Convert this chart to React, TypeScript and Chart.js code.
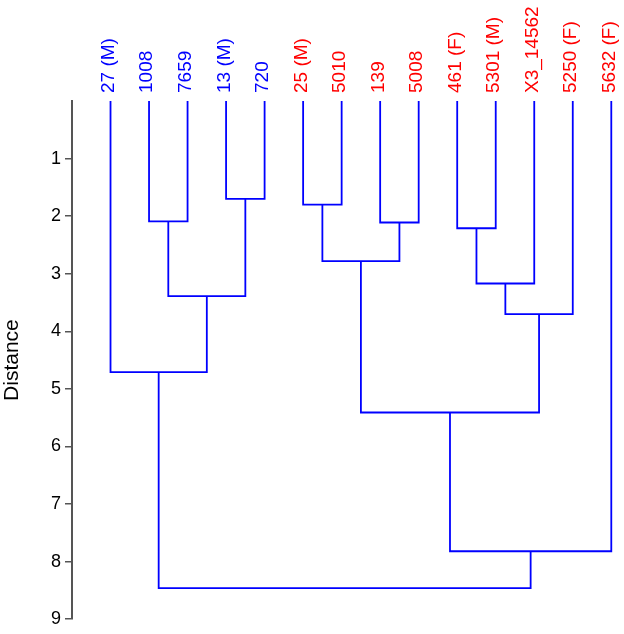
import React, { useEffect, useRef } from "react";
import { Chart, registerables } from "chart.js";

Chart.register(...registerables);

const leafLabels = [
  "27 (M)", "1008", "7659", "13 (M)", "720",
  "25 (M)", "5010", "139", "5008", "461 (F)", "5301 (M)", "X3_14562", "5250 (F)", "5632 (F)",
];
const leafColors = [
  "#0000ff", "#0000ff", "#0000ff", "#0000ff", "#0000ff",
  "#ff0000", "#ff0000", "#ff0000", "#ff0000", "#ff0000", "#ff0000", "#ff0000", "#ff0000", "#ff0000",
];
// linkage: node ids 0..13 are leaves, merges create ids 14, 15, ...
const mergeLeft = [3, 5, 1, 7, 9, 15, 18, 16, 20, 0, 19, 24, 23];
const mergeRight = [4, 6, 2, 8, 10, 17, 11, 14, 12, 21, 22, 13, 25];
const mergeHeights = [1.7, 1.8, 2.09, 2.11, 2.21, 2.78, 3.17, 3.39, 3.7, 4.71, 5.41, 7.82, 8.46];
const yTickValues = [1, 2, 3, 4, 5, 6, 7, 8, 9];

const LINE_COLOR = "#0000ff";
const FONT = "'Liberation Sans', Arial, sans-serif";

function buildSegments() {
  const pos: number[] = leafLabels.map((_, i) => i);
  const hgt: number[] = leafLabels.map(() => 0);
  const segs: { x: number; y: number }[][] = [];
  mergeHeights.forEach((H, k) => {
    const l = mergeLeft[k];
    const r = mergeRight[k];
    segs.push([
      { x: pos[l], y: hgt[l] },
      { x: pos[l], y: H },
      { x: pos[r], y: H },
      { x: pos[r], y: hgt[r] },
    ]);
    pos.push((pos[l] + pos[r]) / 2);
    hgt.push(H);
  });
  return segs;
}

export default function App() {
  const ref = useRef<HTMLCanvasElement | null>(null);
  useEffect(() => {
    if (!ref.current) return;
    const segs = buildSegments();
    const chart = new Chart(ref.current, {
      type: "scatter",
      data: {
        datasets: segs.map((s) => ({
          data: s,
          showLine: true,
          borderColor: LINE_COLOR,
          borderWidth: 1.8,
          pointRadius: 0,
          pointHoverRadius: 0,
          fill: false,
          tension: 0,
          clip: false as any,
        })),
      },
      options: {
        responsive: false,
        animation: false,
        layout: { padding: { left: 0, right: 0, top: 0, bottom: 0 } },
        plugins: { legend: { display: false }, tooltip: { enabled: false } },
        scales: {
          x: {
            type: "linear",
            position: "top",
            min: -1,
            max: 13.33,
            grid: { display: false },
            border: { display: false },
            afterBuildTicks: (scale: any) => {
              scale.ticks = leafLabels.map((_, i) => ({ value: i }));
            },
            afterFit: (scale: any) => {
              scale.height = 101;
              scale.paddingLeft = 0;
              scale.paddingRight = 0;
            },
            ticks: {
              autoSkip: false,
              minRotation: 90,
              maxRotation: 90,
              padding: 0,
              labelOffset: 21,
              font: { family: FONT, size: 19 },
              color: (ctx: any) => leafColors[ctx.tick ? ctx.tick.value : ctx.index] || "#000",
              callback: (v: any) => leafLabels[v as number] ?? "",
            },
          },
          y: {
            type: "linear",
            reverse: true,
            min: 0,
            max: 9,
            afterBuildTicks: (scale: any) => {
              scale.ticks = yTickValues.map((v) => ({ value: v }));
            },
            afterFit: (scale: any) => {
              scale.width = 72;
            },
            grid: {
              drawOnChartArea: false,
              drawTicks: true,
              tickLength: 7,
              color: "#555555",
              lineWidth: 1.5,
            },
            border: { display: true, color: "#555555", width: 2 },
            ticks: {
              padding: 4,
              color: "#000000",
              font: { family: FONT, size: 18 },
            },
            title: {
              display: true,
              text: "Distance",
              color: "#000000",
              font: { family: FONT, size: 21 },
              padding: { top: 0, bottom: 0 },
            },
          },
        },
      },
    });
    return () => chart.destroy();
  }, []);
  return (
    <div style={{ position: "fixed", left: 0, top: 0, width: 624, height: 634, background: "#fff" }}>
      <canvas ref={ref} width={624} height={634} />
    </div>
  );
}
